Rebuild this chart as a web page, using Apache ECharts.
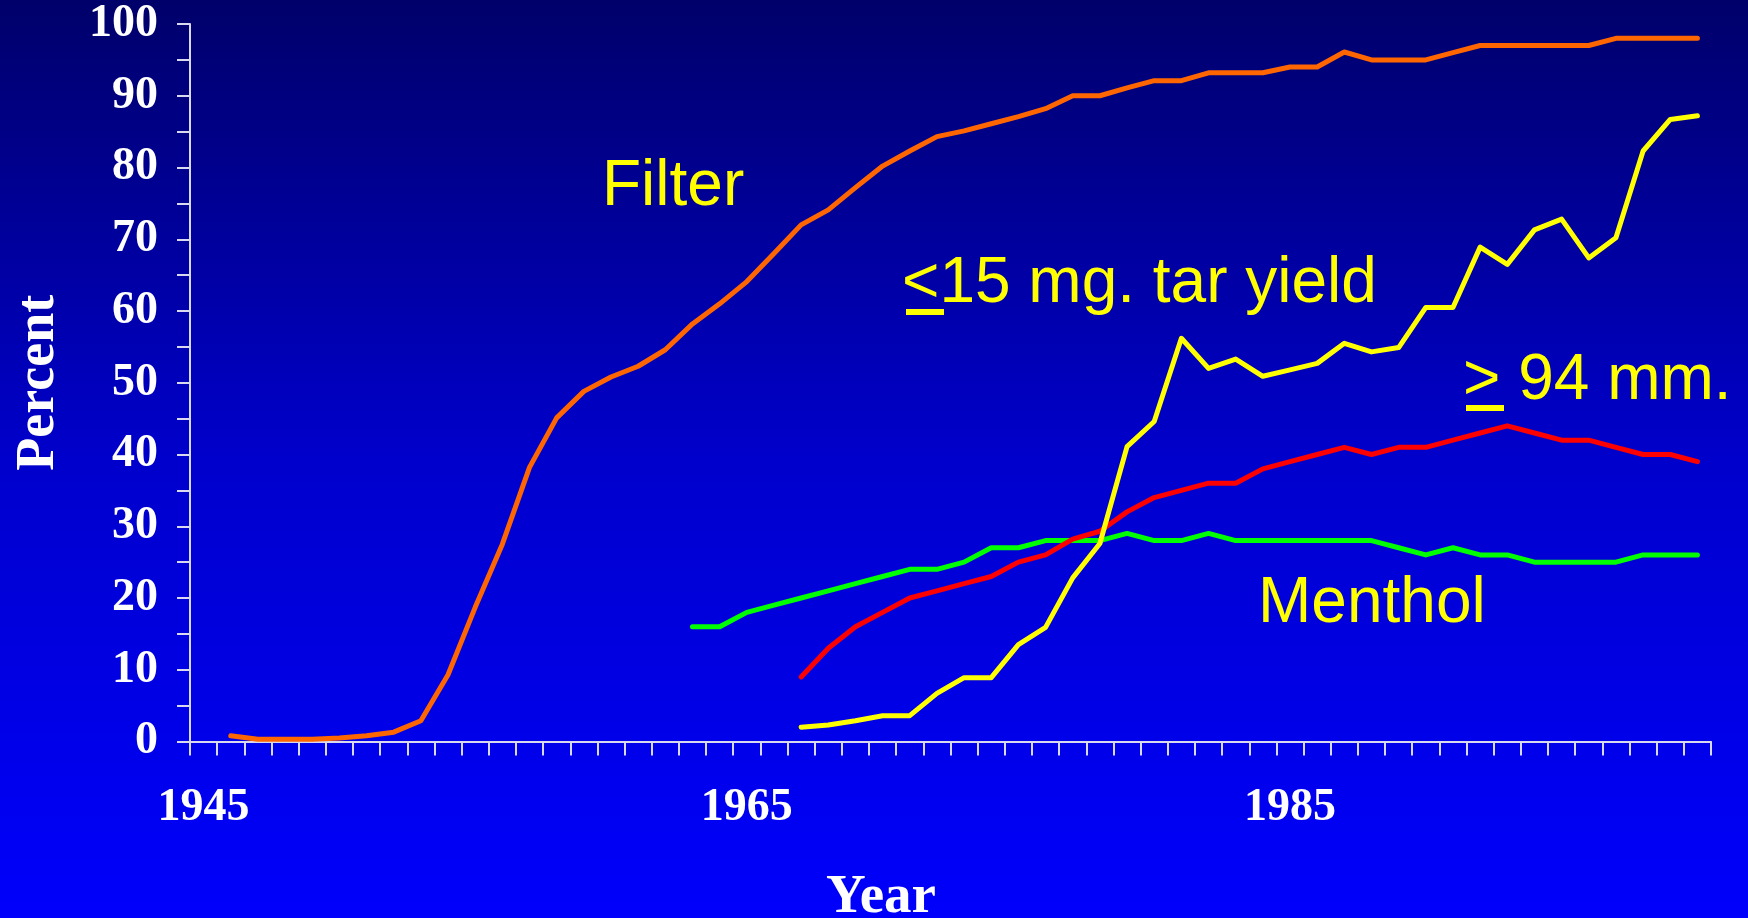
<!DOCTYPE html>
<html>
<head>
<meta charset="utf-8">
<script src="https://cdn.jsdelivr.net/npm/echarts@6/dist/echarts.min.js"></script>
<style>
  html, body { margin: 0; padding: 0; width: 1748px; height: 918px; overflow: hidden; }
  #chart { width: 1748px; height: 918px; }
</style>
</head>
<body>
<div id="chart"></div>
<script>
// ---- Data ----
const years = [
  '1945','1946','1947','1948','1949','1950','1951','1952','1953','1954',
  '1955','1956','1957','1958','1959','1960','1961','1962','1963','1964',
  '1965','1966','1967','1968','1969','1970','1971','1972','1973','1974',
  '1975','1976','1977','1978','1979','1980','1981','1982','1983','1984',
  '1985','1986','1987','1988','1989','1990','1991','1992','1993','1994',
  '1995','1996','1997','1998','1999','2000'
];

const filterValues = [
  null, 0.8, 0.3, 0.3, 0.3, 0.5, 0.8, 1.3, 2.9, 9.3,
  18.7, 27.5, 38.2, 45.1, 48.8, 50.8, 52.3, 54.6, 58.2, 61,
  64.1, 68, 72, 74.1, 77.2, 80.2, 82.3, 84.3, 85.1, 86.1,
  87.1, 88.2, 90, 90, 91.1, 92.1, 92.1, 93.2, 93.2, 93.2,
  94, 94, 96.1, 95, 95, 95, 96, 97, 97, 97,
  97, 97, 98, 98, 98, 98
];

const mentholValues = [
  null, null, null, null, null, null, null, null, null, null,
  null, null, null, null, null, null, null, null, 16, 16,
  18, 19, 20, 21, 22, 23, 24, 24, 25, 27,
  27, 28, 28, 28, 29, 28, 28, 29, 28, 28,
  28, 28, 28, 28, 27, 26, 27, 26, 26, 25,
  25, 25, 25, 26, 26, 26
];

const longValues = [
  null, null, null, null, null, null, null, null, null, null,
  null, null, null, null, null, null, null, null, null, null,
  null, null, 9, 13, 16, 18, 20, 21, 22, 23,
  25, 26, 28.2, 29.3, 32, 34, 35, 36, 36, 38,
  39, 40, 41, 40, 41, 41, 42, 43, 44, 43,
  42, 42, 41, 40, 40, 39
];

const lowTarValues = [
  null, null, null, null, null, null, null, null, null, null,
  null, null, null, null, null, null, null, null, null, null,
  null, null, 2, 2.3, 2.9, 3.6, 3.6, 6.7, 8.9, 8.9,
  13.5, 15.9, 22.8, 27.6, 41.1, 44.6, 56.2, 52, 53.3, 50.9,
  51.8, 52.7, 55.5, 54.3, 54.9, 60.5, 60.5, 68.9, 66.5, 71.3,
  72.8, 67.4, 70.2, 82.3, 86.7, 87.2
];

const yTickLabels = ['0','10','20','30','40','50','60','70','80','90','100'];

// ---- Chart ----
const chart = echarts.init(document.getElementById('chart'), null, { renderer: 'canvas' });

const serif = '"Liberation Serif", "Times New Roman", serif';
const sans = '"Liberation Sans", Arial, sans-serif';
const axisColor = '#D8D8EE';

function lineSeries(name, data, color) {
  return {
    name: name,
    type: 'line',
    data: data,
    showSymbol: false,
    symbol: 'none',
    connectNulls: false,
    lineStyle: { color: color, width: 5, cap: 'round', join: 'round' },
    itemStyle: { color: color },
    emphasis: { disabled: true },
    animation: false
  };
}

const option = {
  animation: false,
  backgroundColor: {
    type: 'linear', x: 0, y: 0, x2: 0, y2: 1,
    colorStops: [
      { offset: 0, color: '#00006A' },
      { offset: 0.5, color: '#0000CC' },
      { offset: 1, color: '#0000FC' }
    ]
  },
  grid: {
    left: 190, right: 37, top: 24, bottom: 176.5,
    containLabel: false,
    outerBoundsMode: 'none'
  },
  xAxis: {
    type: 'category',
    data: years,
    boundaryGap: true,
    name: 'Year',
    nameLocation: 'middle',
    nameGap: 129,
    nameTextStyle: {
      color: '#FFFFFF', fontFamily: serif, fontWeight: 'bold', fontSize: 55,
      padding: [0, 139, 0, 0]
    },
    axisLine: { show: true, lineStyle: { color: axisColor, width: 2 } },
    axisTick: { show: true, inside: false, length: 14, interval: 0, alignWithLabel: false,
                lineStyle: { color: axisColor, width: 2 } },
    axisLabel: {
      interval: 19,
      margin: 44,
      color: '#FFFFFF', fontFamily: serif, fontWeight: 'bold', fontSize: 46, lineHeight: 46
    },
    splitLine: { show: false }
  },
  yAxis: {
    type: 'value',
    min: 0, max: 100, interval: 5,
    name: 'Percent',
    nameLocation: 'middle',
    nameGap: 124,
    nameTextStyle: { color: '#FFFFFF', fontFamily: serif, fontWeight: 'bold', fontSize: 54 },
    axisLine: { show: true, lineStyle: { color: axisColor, width: 2 } },
    axisTick: { show: true, inside: false, length: 13, lineStyle: { color: axisColor, width: 2 } },
    axisLabel: {
      margin: 32,
      color: '#FFFFFF', fontFamily: serif, fontWeight: 'bold', fontSize: 46, lineHeight: 46,
      formatter: function (v) {
        const s = String(v);
        return yTickLabels.indexOf(s) >= 0 ? s : '';
      }
    },
    splitLine: { show: false }
  },
  series: [
    lineSeries('Filter', filterValues, '#FF6600'),
    lineSeries('Menthol', mentholValues, '#00FF00'),
    lineSeries('>= 94 mm.', longValues, '#FF0000'),
    lineSeries('<=15 mg. tar yield', lowTarValues, '#FFFF00')
  ],
  graphic: [
    { type: 'text', left: 602, top: 155, silent: true,
      style: { text: 'Filter', fill: '#FFFF00', font: '64px ' + sans } },
    { type: 'text', left: 902, top: 252, silent: true,
      style: { text: '<15 mg. tar yield', fill: '#FFFF00', font: '64px ' + sans } },
    { type: 'rect', left: 906, top: 309, silent: true,
      shape: { width: 38, height: 6 }, style: { fill: '#FFFF00' } },
    { type: 'text', left: 1463, top: 349, silent: true,
      style: { text: '> 94 mm.', fill: '#FFFF00', font: '64px ' + sans } },
    { type: 'rect', left: 1466, top: 405, silent: true,
      shape: { width: 38, height: 6 }, style: { fill: '#FFFF00' } },
    { type: 'text', left: 1258, top: 572, silent: true,
      style: { text: 'Menthol', fill: '#FFFF00', font: '64px ' + sans } }
  ]
};

chart.setOption(option);
</script>
</body>
</html>
